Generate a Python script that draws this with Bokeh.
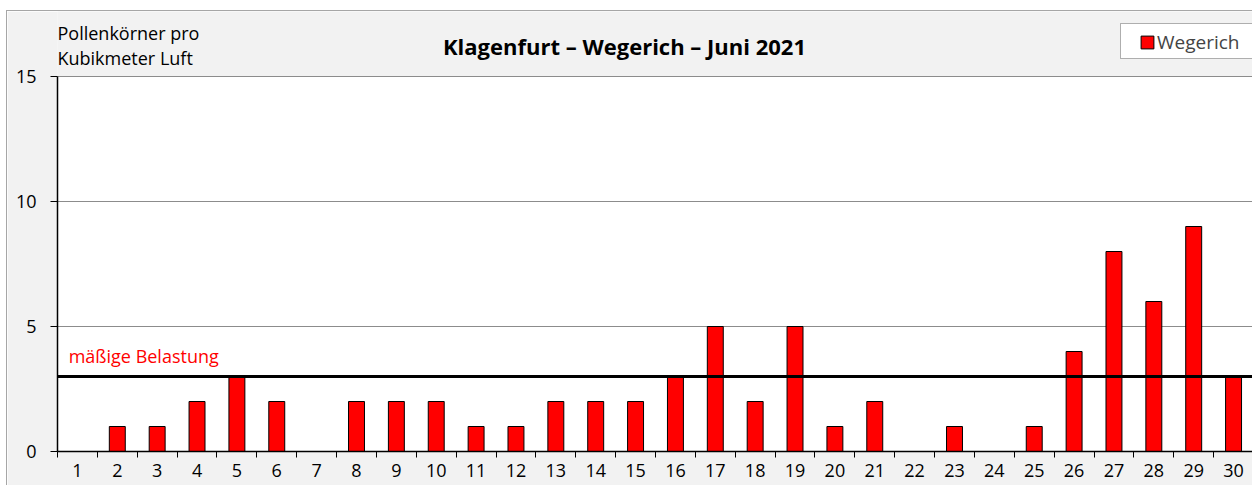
from bokeh.plotting import figure
from bokeh.models import (FixedTicker, Span, Label, Legend, LegendItem, Range1d,
                          BoxAnnotation)
from bokeh.embed import file_html
from bokeh.resources import INLINE

days = list(range(1, 31))
wegerich = [0, 1, 1, 2, 3, 2, 0, 2, 2, 2, 1, 1, 2, 2, 2, 3, 5, 2, 5, 1,
            2, 0, 1, 0, 1, 4, 8, 6, 9, 3]
threshold = 3
threshold_label = "mäßige Belastung"
y_ticks = [0, 5, 10, 15]
title_text = "Klagenfurt – Wegerich – Juni 2021"
unit_lines = ["Pollenkörner pro", "Kubikmeter Luft"]
series_name = "Wegerich"

FONT = "Open Sans"
FS = "18px"
GRID = "#8c8c8c"

p = figure(width=1246, height=475, output_backend="svg", toolbar_location=None,
           x_range=Range1d(0.5, 30.5), y_range=Range1d(0, 17.6),
           min_border_left=50, min_border_right=0, min_border_top=0,
           min_border_bottom=35, margin=(10, 0, 0, 6),
           styles={"border-top": "1px solid #a6a6a6", "border-left": "1px solid #a6a6a6"})
p.background_fill_color = "#f2f2f2"
p.border_fill_color = "#f2f2f2"
p.outline_line_color = None

# white plot area
p.add_layout(BoxAnnotation(left=0.5, right=30.5, bottom=0, top=y_ticks[-1],
                           fill_color="white", fill_alpha=1, line_color=GRID,
                           line_width=1, level="image"))

r = p.vbar(x=days, top=wegerich, width=0.4, fill_color="#ff0000",
           line_color="black", line_width=1)

# axes
p.xaxis.ticker = FixedTicker(ticks=days, minor_ticks=[d + 0.5 for d in range(0, 31)])
p.xaxis.major_tick_out = 0
p.xaxis.major_tick_in = 0
p.xaxis.minor_tick_out = 6
p.xaxis.minor_tick_in = 0
p.xaxis.minor_tick_line_color = "black"
p.xaxis.axis_line_color = "black"
p.xaxis.axis_line_width = 1.5
p.xaxis.major_label_standoff = 6
p.xaxis.major_label_text_font = FONT
p.xaxis.major_label_text_font_size = FS
p.xaxis.major_label_text_color = "black"

p.yaxis.ticker = FixedTicker(ticks=y_ticks)
p.yaxis.bounds = (y_ticks[0], y_ticks[-1])
p.yaxis.major_tick_out = 7
p.yaxis.major_tick_in = 0
p.yaxis.minor_tick_line_color = None
p.yaxis.axis_line_color = "black"
p.yaxis.axis_line_width = 1.5
p.yaxis.major_label_standoff = 14
p.yaxis.major_label_text_font = FONT
p.yaxis.major_label_text_font_size = FS
p.yaxis.major_label_text_color = "black"

p.xgrid.grid_line_color = None
p.ygrid.grid_line_color = GRID
p.ygrid.grid_line_width = 1

# threshold line
p.add_layout(Span(location=threshold, dimension="width", line_color="black", line_width=3))
p.add_layout(Label(x=0.78, y=3.84, text=threshold_label, text_color="#ff0000",
                   text_font=FONT, text_font_size=FS, text_baseline="middle"))

# title and unit label (screen units relative to frame)
p.add_layout(Label(x=567, y=406, x_units="screen", y_units="screen", text=title_text,
                   text_font=FONT, text_font_size="22px", text_font_style="bold",
                   text_align="center", text_baseline="middle", text_color="black"))
p.add_layout(Label(x=0, y=419, x_units="screen", y_units="screen", text=unit_lines[0],
                   text_font=FONT, text_font_size=FS, text_baseline="middle",
                   text_color="black"))
p.add_layout(Label(x=0, y=394, x_units="screen", y_units="screen", text=unit_lines[1],
                   text_font=FONT, text_font_size=FS, text_baseline="middle",
                   text_color="black"))

# legend box + legend
p.add_layout(BoxAnnotation(left=1063, right=1195, bottom=393, top=428,
                           left_units="screen", right_units="screen",
                           bottom_units="screen", top_units="screen",
                           fill_color="white", fill_alpha=1, line_color="black",
                           line_width=1, level="annotation"))
legend = Legend(items=[LegendItem(label=series_name, renderers=[r])],
                location=(1082, 396))
legend.border_line_color = None
legend.background_fill_alpha = 0
legend.label_text_font = FONT
legend.label_text_font_size = "19px"
legend.glyph_width = 16
legend.glyph_height = 16
legend.padding = 4
legend.margin = 0
legend.label_standoff = 2
legend.spacing = 0
p.add_layout(legend, "center")

open("out.html", "w").write(file_html(p, INLINE))
